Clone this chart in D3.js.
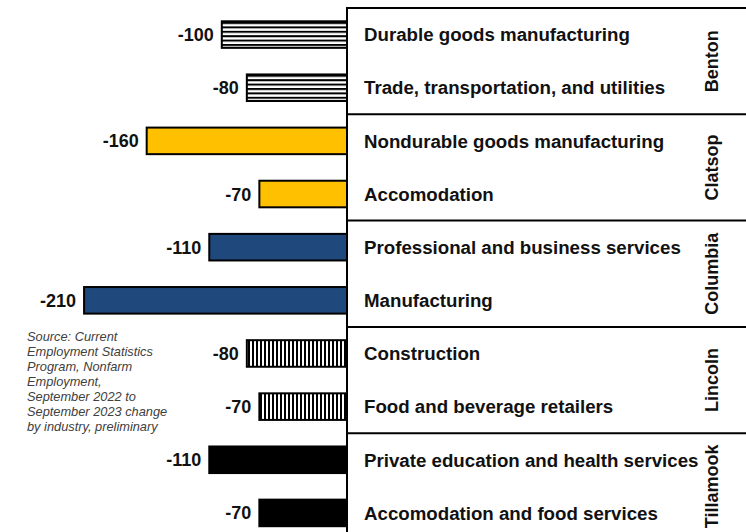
<!DOCTYPE html>
<html>
<head>
<meta charset="utf-8">
<script src="https://cdn.jsdelivr.net/npm/d3@7"></script>
<style>
  html, body { margin: 0; padding: 0; background: #fff; }
  svg { display: block; font-family: "Liberation Sans", Arial, sans-serif; }
</style>
</head>
<body>
<svg id="chart" width="746" height="532"></svg>
<script>
// Job losses by county and industry, Sept 2022 - Sept 2023

const counties = ["Benton", "Clatsop", "Columbia", "Lincoln", "Tillamook"];

const industries = [
    "Durable goods manufacturing",
    "Trade, transportation, and utilities",
    "Nondurable goods manufacturing",
    "Accomodation",
    "Professional and business services",
    "Manufacturing",
    "Construction",
    "Food and beverage retailers",
    "Private education and health services",
    "Accomodation and food services"
];

const rowCounty = ["Benton", "Benton", "Clatsop", "Clatsop", "Columbia",
    "Columbia", "Lincoln", "Lincoln", "Tillamook", "Tillamook"];

const changes = [-100, -80, -160, -70, -110, -210, -80, -70, -110, -70];

const sourceLines = [
    "Source: Current",
    "Employment Statistics",
    "Program, Nonfarm",
    "Employment,",
    "September 2022 to",
    "September 2023 change",
    "by industry, preliminary"
];

// Füllung pro County
const countyFill = {
    Benton: "url(#hstripes)",
    Clatsop: "#FFC000",
    Columbia: "#1F497D",
    Lincoln: "url(#vstripes)",
    Tillamook: "#000000"
};

const rows = industries.map((name, i) => ({
    id: i,
    industry: name,
    county: rowCounty[i],
    value: changes[i]
}));

const svg = d3.select("#chart");
const axisX = 347;
const plotTop = 8;
const plotBottom = 539.5;

// Skalen
const x = d3.scaleLinear().domain([-250, 0]).range([34, axisX]);

const y = d3.scaleBand()
    .domain(rows.map(d => d.id))
    .range([plotTop, plotBottom])
    .paddingInner(0.5)
    .paddingOuter(0.25);

const yCounty = d3.scaleBand()
    .domain(counties)
    .range([plotTop, plotBottom])
    .padding(0);

// Muster
const defs = svg.append("defs");

const h = defs.append("pattern")
    .attr("id", "hstripes")
    .attr("patternUnits", "userSpaceOnUse")
    .attr("width", 8).attr("height", 4.4);
h.append("rect").attr("width", 8).attr("height", 4.4).attr("fill", "#fff");
h.append("rect").attr("width", 8).attr("height", 2).attr("fill", "#000");

const v = defs.append("pattern")
    .attr("id", "vstripes")
    .attr("patternUnits", "userSpaceOnUse")
    .attr("width", 4).attr("height", 8);
v.append("rect").attr("width", 4).attr("height", 8).attr("fill", "#fff");
v.append("rect").attr("width", 2).attr("height", 8).attr("fill", "#000");

// Balken
svg.append("g")
    .selectAll("rect")
    .data(rows)
    .join("rect")
    .attr("x", d => x(d.value))
    .attr("y", d => y(d.id))
    .attr("width", d => x(0) - x(d.value))
    .attr("height", y.bandwidth())
    .attr("fill", d => countyFill[d.county])
    .attr("stroke", "#000")
    .attr("stroke-width", 2);

// Wertbeschriftungen
svg.append("g")
    .selectAll("text")
    .data(rows)
    .join("text")
    .attr("x", d => x(d.value) - 8)
    .attr("y", d => y(d.id) + y.bandwidth() / 2)
    .attr("dy", "0.36em")
    .attr("text-anchor", "end")
    .style("font-size", "18px")
    .style("font-weight", "700")
    .attr("fill", "#111")
    .text(d => d.value);

// Achse und Trennlinien
const grid = svg.append("g").attr("stroke", "#000").attr("stroke-width", 2);

grid.append("line")
    .attr("x1", axisX).attr("x2", axisX)
    .attr("y1", plotTop - 1).attr("y2", 532);

grid.selectAll(".sep")
    .data(counties)
    .join("line")
    .attr("class", "sep")
    .attr("x1", axisX).attr("x2", 746)
    .attr("y1", d => yCounty(d))
    .attr("y2", d => yCounty(d));

// Branchen
svg.append("g")
    .selectAll("text")
    .data(rows)
    .join("text")
    .attr("x", 364)
    .attr("y", d => y(d.id) + y.bandwidth() / 2)
    .attr("dy", "0.36em")
    .style("font-size", "18.7px")
    .style("font-weight", "700")
    .attr("fill", "#111")
    .text(d => d.industry);

// Countys (gedreht)
svg.append("g")
    .selectAll("text")
    .data(counties)
    .join("text")
    .attr("transform", d => `translate(718, ${yCounty(d) + yCounty.bandwidth() / 2}) rotate(-90)`)
    .attr("text-anchor", "middle")
    .style("font-size", "18px")
    .style("font-weight", "700")
    .attr("fill", "#111")
    .text(d => d);

// Quelle
svg.append("text")
    .attr("x", 27)
    .attr("y", 341)
    .style("font-size", "12.8px")
    .style("font-style", "italic")
    .attr("fill", "#404040")
    .selectAll("tspan")
    .data(sourceLines)
    .join("tspan")
    .attr("x", 27)
    .attr("dy", (d, i) => i === 0 ? 0 : 15)
    .text(d => d);
</script>
</body>
</html>
